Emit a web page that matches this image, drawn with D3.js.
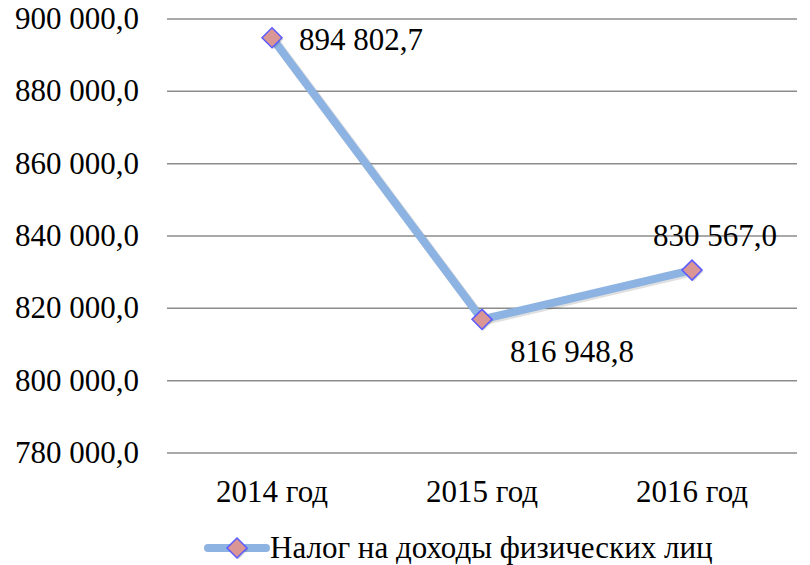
<!DOCTYPE html>
<html><head><meta charset="utf-8">
<script src="https://cdn.jsdelivr.net/npm/d3@7/dist/d3.min.js"></script>
</head><body style="margin:0;background:#fff;font-family:'Liberation Serif',serif">
<svg id="c" width="810" height="565" font-family="Liberation Serif"></svg>
<script>
const categories = ["2014 год","2015 год","2016 год"];
const values = [894802.7, 816948.8, 830567.0];
const valueLabels = ["894 802,7","816 948,8","830 567,0"];
const yTicks = [780000,800000,820000,840000,860000,880000,900000];
const seriesName = "Налог на доходы физических лиц";

const chartSvg = d3.select("#c");
const pL = 167, pR = 797, pT = 19, pB = 453;
const xs = d3.scaleBand().domain(categories).range([pL, pR]);
const ys = d3.scaleLinear().domain([780000, 900000]).range([pB, pT]);
const fmtTick = v => d3.format(",.1f")(v).replace(/,/g, " ").replace(".", ",");
const FS = 31;

chartSvg.append("g").selectAll("line").data(yTicks).join("line")
  .attr("x1", pL).attr("x2", pR).attr("y1", d => ys(d)).attr("y2", d => ys(d))
  .attr("stroke", "#8c8c8c").attr("stroke-width", 1.5);
chartSvg.append("g").selectAll("text").data(yTicks).join("text")
  .attr("x", 139).attr("y", d => ys(d) + 10)
  .attr("text-anchor", "end").attr("font-family", "Liberation Serif")
  .attr("font-size", FS).text(fmtTick);
chartSvg.append("g").selectAll("text").data(categories).join("text")
  .attr("x", d => xs(d) + xs.bandwidth()/2).attr("y", 502)
  .attr("text-anchor", "middle").attr("font-family", "Liberation Serif")
  .attr("font-size", FS).text(d => d);

const pts = categories.map((c, i) => ({c, v: values[i], l: valueLabels[i]}));
const cx = d => xs(d.c) + xs.bandwidth()/2;
const lineGen = d3.line().x(cx).y(d => ys(d.v));

// soft shadow (offset copy) instead of filter
chartSvg.append("path").datum(pts).attr("d", lineGen)
  .attr("transform", "translate(1.5,1.5)")
  .attr("fill", "none").attr("stroke", "#000").attr("stroke-opacity", 0.12)
  .attr("stroke-width", 9).attr("stroke-linejoin", "round");
chartSvg.append("path").datum(pts).attr("d", lineGen)
  .attr("fill", "none").attr("stroke", "#8db3e2").attr("stroke-width", 8)
  .attr("stroke-linejoin", "round");

const diamond = (g) => {
  g.append("path").attr("d", "M0,-10L10,0L0,10L-10,0Z")
    .attr("transform", "translate(1.5,1.5)").attr("fill", "#000").attr("fill-opacity", 0.15);
  g.append("path").attr("d", "M0,-10L10,0L0,10L-10,0Z")
    .attr("fill", "#d99694").attr("stroke", "#5b5bff").attr("stroke-width", 1.5);
};

pts.forEach(d => {
  diamond(chartSvg.append("g").attr("transform", `translate(${cx(d)},${ys(d.v)})`));
});

const offs = [[27, 12, "start"], [90, 43, "middle"], [23, -24, "middle"]];
chartSvg.append("g").selectAll("text").data(pts).join("text")
  .attr("x", (d, i) => cx(d) + offs[i][0]).attr("y", (d, i) => ys(d.v) + offs[i][1])
  .attr("text-anchor", (d, i) => offs[i][2]).attr("font-family", "Liberation Serif")
  .attr("font-size", FS).text(d => d.l);

const lg = chartSvg.append("g").attr("transform", "translate(237,548)");
lg.append("line").attr("x1", -29).attr("x2", 29).attr("stroke", "#8db3e2")
  .attr("stroke-width", 8).attr("stroke-linecap", "round");
diamond(lg);
lg.append("text").attr("x", 33).attr("y", 10).attr("font-family", "Liberation Serif")
  .attr("font-size", FS).text(seriesName);
</script></body></html>
